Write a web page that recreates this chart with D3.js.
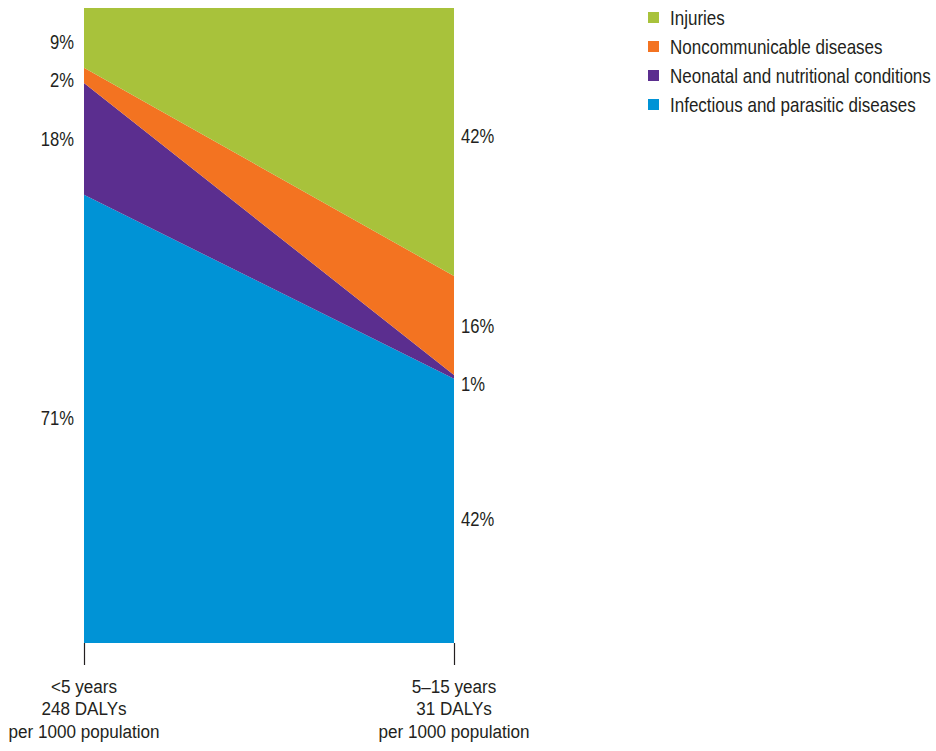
<!DOCTYPE html>
<html lang="en">
<head>
    <meta charset="UTF-8">
    <title>DALYs by cause, children</title>
    <script src="https://cdn.jsdelivr.net/npm/d3@7"></script>
    <style>
        body { margin: 0; background: #fff; }
        svg text {
            font-family: "Liberation Sans", Arial, sans-serif;
            fill: #231f20;
        }
    </style>
</head>
<body>
    <div id="chart"></div>

    <script>
        // age groups (x positions) and their axis labels
        var ageGroups = ["<5 years", "5–15 years"];
        var ageLabels = [
            ["<5 years", "248 DALYs", "per 1000 population"],
            ["5–15 years", "31 DALYs", "per 1000 population"]
        ];

        // causes, bottom of the stack first
        var causes = ["Infectious and parasitic diseases", "Neonatal and nutritional conditions",
                      "Noncommunicable diseases", "Injuries"];
        var colors = ["#0093d6", "#5b2e8f", "#f37321", "#a8c23b"];

        // share of DALYs (%) for each cause, per age group
        var infectious = [70.6, 41.6];
        var neonatal = [17.6, 0.6];
        var noncommunicable = [2.4, 15.6];
        var injuries = [9.4, 42.2];

        var rows = ageGroups.map(function(g, i) {
            var r = { group: g };
            r[causes[0]] = infectious[i];
            r[causes[1]] = neonatal[i];
            r[causes[2]] = noncommunicable[i];
            r[causes[3]] = injuries[i];
            return r;
        });

        var width = 936, height = 751;
        var svg = d3.select("#chart").append("svg")
            .attr("width", width)
            .attr("height", height);

        // no condensed font installed, so squeeze a normal one sideways
        function narrowText(parent, tx, ty, size, squeeze) {
            return parent.append("text")
                .attr("transform", "translate(" + tx + "," + ty + ") scale(" + squeeze + ",1)")
                .attr("font-size", size);
        }

        var x = d3.scalePoint().domain(ageGroups).range([84, 454]);
        var y = d3.scaleLinear().domain([0, 1]).range([643, 8]);

        var stack = d3.stack().keys(causes).offset(d3.stackOffsetExpand);
        var series = stack(rows);

        var area = d3.area()
            .x(function(d) { return x(d.data.group); })
            .y0(function(d) { return y(d[0]); })
            .y1(function(d) { return y(d[1]); });

        svg.selectAll("path.layer")
            .data(series)
            .enter()
            .append("path")
            .attr("class", "layer")
            .attr("d", area)
            .attr("fill", function(d, i) { return colors[i]; });

        // percentage labels beside each edge (small nudges keep the thin layers apart)
        var nudge = [[-1, 0, 4, 4], [8, 6, 0, -7]];
        series.forEach(function(s, k) {
            s.forEach(function(d, i) {
                var mid = y((d[0] + d[1]) / 2) + nudge[i][k];
                var raw = rows[i][causes[k]];
                var tx = i === 0 ? x(ageGroups[0]) - 10 : x(ageGroups[1]) + 7;
                narrowText(svg, tx, mid, 21, 0.79)
                    .attr("dy", "0.36em")
                    .attr("text-anchor", i === 0 ? "end" : "start")
                    .text(Math.round(raw) + "%");
            });
        });

        // bottom axis: ticks only, no domain line
        var axis = svg.append("g")
            .attr("transform", "translate(0,643)")
            .call(d3.axisBottom(x).tickSize(22).tickFormat(""));
        axis.select(".domain").remove();
        axis.selectAll(".tick line").attr("stroke", "#231f20").attr("stroke-width", 1.2);

        ageGroups.forEach(function(g, i) {
            narrowText(svg, x(g), 693, 19, 0.9)
                .attr("text-anchor", "middle")
                .selectAll("tspan")
                .data(ageLabels[i])
                .enter()
                .append("tspan")
                .attr("x", 0)
                .attr("dy", function(d, j) { return j === 0 ? 0 : 22.5; })
                .text(function(d) { return d; });
        });

        // legend, top item first
        var legend = svg.append("g").attr("transform", "translate(648,0)");
        causes.slice().reverse().forEach(function(c, j) {
            var yy = 17.5 + j * 29;
            var idx = causes.indexOf(c);
            legend.append("rect")
                .attr("x", 0)
                .attr("y", yy - 5.5)
                .attr("width", 11)
                .attr("height", 11)
                .attr("fill", colors[idx]);
            narrowText(legend, 22, yy, 21, 0.81)
                .attr("dy", "0.36em")
                .text(c);
        });
    </script>
</body>
</html>
